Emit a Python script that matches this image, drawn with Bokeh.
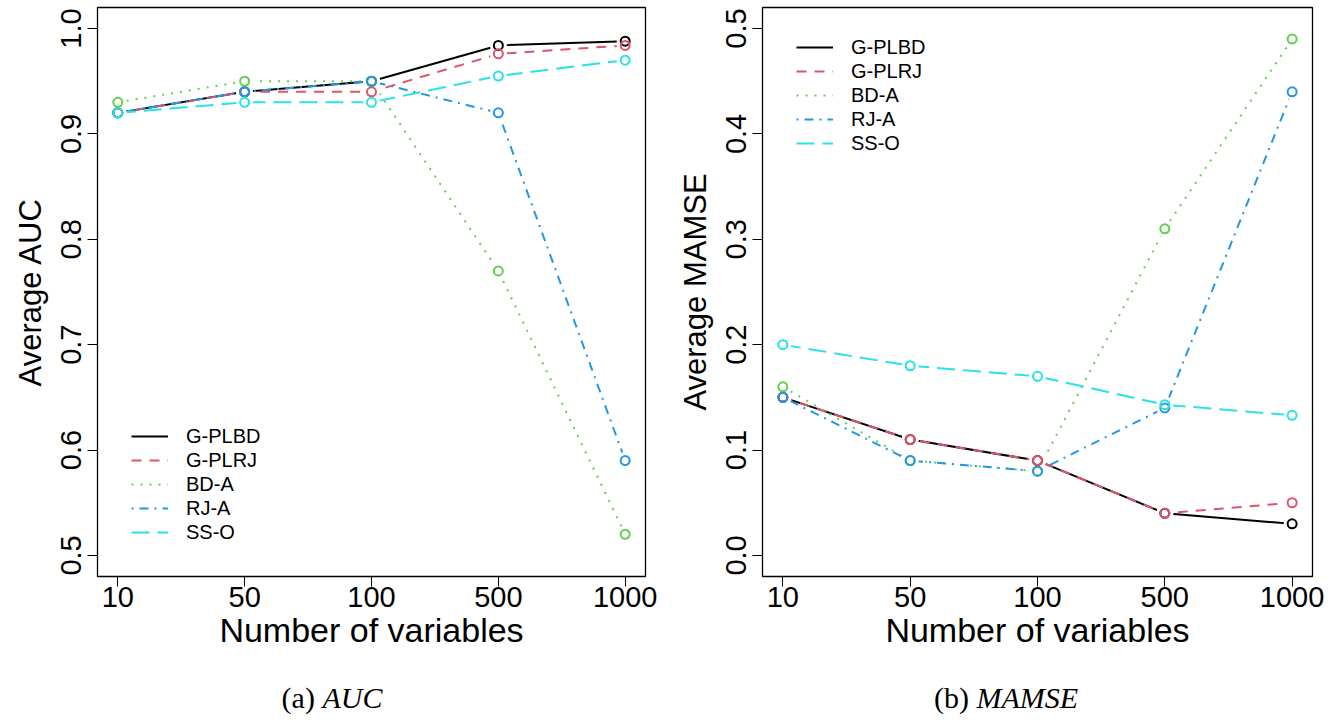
import math
from bokeh.plotting import figure
from bokeh.models import (Range1d, FixedTicker, PrintfTickFormatter, Legend,
                          LegendItem, Div)
from bokeh.layouts import row, column
from bokeh.embed import file_html
from bokeh.resources import INLINE

# ---------------- data ----------------
n_vars = ["10", "50", "100", "500", "1000"]
methods = ["G-PLBD", "G-PLRJ", "BD-A", "RJ-A", "SS-O"]

auc_gplbd = [0.92, 0.94, 0.95, 0.984, 0.988]
auc_gplrj = [0.92, 0.94, 0.94, 0.976, 0.984]
auc_bda = [0.93, 0.95, 0.95, 0.77, 0.52]
auc_rja = [0.92, 0.94, 0.95, 0.92, 0.59]
auc_sso = [0.92, 0.93, 0.93, 0.955, 0.97]

mamse_gplbd = [0.15, 0.11, 0.09, 0.04, 0.03]
mamse_gplrj = [0.15, 0.11, 0.09, 0.04, 0.05]
mamse_bda = [0.16, 0.09, 0.08, 0.31, 0.49]
mamse_rja = [0.15, 0.09, 0.08, 0.14, 0.44]
mamse_sso = [0.20, 0.18, 0.17, 0.143, 0.133]

auc_ticks = [0.5, 0.6, 0.7, 0.8, 0.9, 1.0]
mamse_ticks = [0.0, 0.1, 0.2, 0.3, 0.4, 0.5]

x_label = "Number of variables"
y_label_auc = "Average AUC"
y_label_mamse = "Average MAMSE"
captions = [("(a)", "AUC"), ("(b)", "MAMSE")]

# ---------------- styles ----------------
colors = ["#000000", "#DF536B", "#61D04F", "#2297E6", "#28E2E5"]
dashes = ["solid", "10 8", "2 7", "2 6 9 6", "18 8"]
SANS = "Liberation Sans"
TOP = 7
FRAME_H = 569
BOTTOM = 92
FIG_H = TOP + FRAME_H + BOTTOM

xs = list(range(1, len(n_vars) + 1))


def make_panel(series, ticks, ylabel, legend_loc, width, mbl, mbr):
    span = ticks[-1] - ticks[0]
    xspan = xs[-1] - xs[0]
    p = figure(width=width, height=FIG_H, output_backend="svg",
               toolbar_location=None,
               x_range=Range1d(xs[0] - 0.04 * xspan, xs[-1] + 0.04 * xspan),
               y_range=Range1d(ticks[0] - 0.04 * span, ticks[-1] + 0.04 * span),
               min_border_left=mbl, min_border_right=mbr,
               min_border_top=TOP, min_border_bottom=BOTTOM)
    p.grid.visible = False
    p.background_fill_color = "white"
    p.border_fill_color = "white"
    p.outline_line_color = "black"
    p.outline_line_width = 1.3
    p.outline_line_alpha = 1

    xa = p.xaxis[0]
    ya = p.yaxis[0]
    xa.ticker = FixedTicker(ticks=xs)
    xa.major_label_overrides = {x: lab for x, lab in zip(xs, n_vars)}
    ya.ticker = FixedTicker(ticks=ticks)
    ya.formatter = PrintfTickFormatter(format="%.1f")
    for ax in (xa, ya):
        ax.major_tick_out = 10
        ax.major_tick_in = 0
        ax.minor_tick_out = 0
        ax.minor_tick_in = 0
        ax.axis_line_color = "black"
        ax.major_tick_line_color = "black"
        ax.major_label_text_font = SANS
        ax.major_label_text_font_size = "29px"
        ax.major_label_text_color = "black"
        ax.axis_label_text_font = SANS
        ax.axis_label_text_font_style = "normal"
        ax.axis_label_text_color = "black"
    xa.axis_label = x_label
    xa.axis_label_text_font_size = "34px"
    xa.major_label_standoff = 0
    xa.axis_label_standoff = 1
    ya.axis_label = ylabel
    ya.axis_label_text_font_size = "31px"
    ya.major_label_orientation = "parallel"
    ya.major_label_standoff = 6
    ya.axis_label_standoff = 11

    line_rs = []
    for ys, c, d in zip(series, colors, dashes):
        r = p.line(xs, ys, line_color=c, line_width=2, line_dash=d)
        line_rs.append(r)
    for ys in series:
        p.scatter(xs, ys, marker="circle", size=17, fill_color="white",
                  line_color=None)
    for ys, c in zip(series, colors):
        p.scatter(xs, ys, marker="circle", size=9, fill_color=None,
                  line_color=c, line_width=2)

    legend = Legend(items=[LegendItem(label=m, renderers=[r])
                           for m, r in zip(methods, line_rs)],
                    location=legend_loc, padding=0, margin=0, spacing=0,
                    label_height=24, glyph_height=24, glyph_width=37,
                    label_standoff=18, border_line_alpha=0,
                    background_fill_alpha=0, label_text_font=SANS,
                    label_text_font_size="20px", label_text_color="black")
    p.add_layout(legend)
    return p


p1 = make_panel([auc_gplbd, auc_gplrj, auc_bda, auc_rja, auc_sso],
                auc_ticks, y_label_auc, (34, 32), 668, 97, 23)
p2 = make_panel([mamse_gplbd, mamse_gplrj, mamse_bda, mamse_rja, mamse_sso],
                mamse_ticks, y_label_mamse, (34, 421), 667, 94, 23)


def caption(pre, it, w):
    return ('<div style="width:%dpx;text-align:center;margin:12px 0 0 0;'
            'padding:0;font-family:\'Liberation Serif\';font-size:30px;'
            'line-height:26px;color:black;white-space:nowrap">%s <i>%s</i></div>'
            % (w, pre, it))


d1 = Div(text=caption(captions[0][0], captions[0][1], 654), width=668, height=46,
         styles={"overflow": "visible"})
d2 = Div(text=caption(captions[1][0], captions[1][1], 646), width=667, height=46,
         styles={"overflow": "visible"})

layout = column(row(p1, p2), row(d1, d2))

open("out.html", "w").write(file_html(layout, INLINE))
